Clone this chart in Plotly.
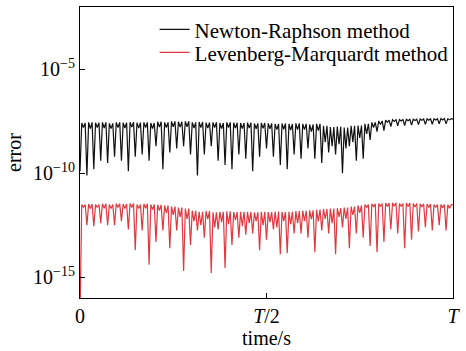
import numpy as np
import plotly.graph_objects as go

# log10(error) values, one entry per oscillation period
black_trough = [-9.9, -10.1, -9.8, -9.4, -9.5, -9.2, -9.4, -9.9, -9.2, -9.1,
                -9.4, -8.7, -9.8, -9.0, -8.8, -8.7, -9.1, -10.1, -9.1, -8.7,
                -9.4, -9.6, -9.8, -9.1, -9.3, -9.9, -9.2, -8.8, -9.2, -9.6,
                -9.8, -9.1, -9.3, -8.8, -9.3, -9.5, -9.0, -9.1, -10.0, -8.7,
                -9.4, -9.3, -8.4, -8.0, -7.95, -7.75, -7.72, -7.7, -7.68, -7.66,
                -7.65, -7.64, -7.62, -7.62]
black_peak = [-7.58, -7.55, -7.57, -7.55, -7.6, -7.55, -7.57, -7.54, -7.56, -7.55,
              -7.58, -7.52, -7.55, -7.5, -7.52, -7.5, -7.55, -7.53, -7.56, -7.55,
              -7.58, -7.55, -7.57, -7.58, -7.56, -7.6, -7.58,
              -7.6, -7.62, -7.6, -7.63, -7.6, -7.62, -7.65, -7.62,
              -7.72, -7.78, -7.75, -7.8, -7.72, -7.7,
              -7.62, -7.55, -7.48, -7.44,
              -7.42, -7.41, -7.4, -7.4, -7.39, -7.38, -7.38, -7.37, -7.37]
black_notch = [-7.8, -7.85, -7.8, -7.82, -7.85, -7.8, -7.82, -7.78, -7.83, -7.8,
               -7.85, -7.78, -7.8, -7.76, -7.78, -7.76, -7.82, -7.8, -7.82, -7.8,
               -7.85, -7.8, -7.83, -7.85, -7.82, -7.86, -7.84,
               -7.86, -7.9, -7.88, -7.92, -7.9, -7.9, -8.0, -7.95,
               -8.5, -8.7, -8.6, -8.8, -8.5, -8.3,
               -8.1, -7.8, -7.65, -7.55,
               -7.5, -7.48, -7.47, -7.46, -7.45, -7.45, -7.44, -7.44, -7.43]
black_last = -7.4

red_trough = [-17.0, -12.5, -12.55, -12.4, -12.5, -12.5, -12.3, -12.7, -13.7, -12.75,
              -14.4, -13.3, -12.75, -13.6, -12.75, -14.7, -13.45, -12.75, -13.1, -14.8,
              -12.7, -14.55, -13.45, -13.1, -12.95, -12.9, -13.7, -13.2, -12.7, -13.9,
              -13.85, -12.9, -12.9, -13.1, -13.8, -12.75, -12.9, -13.9, -12.6, -13.6,
              -12.9, -13.1, -13.5, -13.8, -13.3, -12.7, -12.9, -13.6, -13.2, -12.8,
              -12.6, -12.75, -12.5, -12.75]
red_peak = [-11.5, -11.48, -11.5, -11.47, -11.5, -11.46, -11.48, -11.45, -11.5, -11.47,
            -11.5, -11.52, -11.55, -11.6, -11.65, -11.7,
            -11.8, -11.85, -11.82, -11.88, -11.85, -11.83, -11.87, -11.85, -11.86, -11.88,
            -11.85, -11.87, -11.84, -11.86, -11.85, -11.82, -11.8, -11.78,
            -11.75, -11.72, -11.7, -11.68, -11.65, -11.6, -11.55,
            -11.5, -11.47, -11.45, -11.43, -11.42, -11.45, -11.43, -11.45, -11.47, -11.48,
            -11.5, -11.5, -11.52]
red_notch = [-11.65, -11.7, -11.65, -11.68, -11.7, -11.65, -11.7, -11.65, -11.7, -11.68,
             -11.75, -11.8, -11.9, -12.0, -12.1, -12.2,
             -12.3, -12.5, -12.2, -12.6, -12.35, -12.45, -12.25, -12.55, -12.4, -12.3,
             -12.5, -12.35, -12.6, -12.3, -12.45, -12.4, -12.3, -12.2,
             -12.3, -12.2, -12.4, -12.1, -12.2, -12.0, -11.9,
             -11.65, -11.62, -11.6, -11.6, -11.58, -11.6, -11.6, -11.62, -11.62, -11.65,
             -11.65, -11.66, -11.68]
red_last = -11.5

x_tick_vals = [0, 0.5, 1]
x_tick_text = ["0", "<i>T</i>/2", "<i>T</i>"]
y_tick_vals = [1e-15, 1e-10, 1e-5]
y_tick_text = ["10<sup>\u221215</sup>", "10<sup>\u221210</sup>", "10<sup>\u22125</sup>"]


def build(trough, peak, notch, last):
    seq = []
    for tr, pk, nt in zip(trough, peak, notch):
        seq += [tr, pk, nt, pk]
    seq.append(last)
    return np.power(10.0, np.array(seq))


black = build(black_trough, black_peak, black_notch, black_last)
red = build(red_trough, red_peak, red_notch, red_last)
t_black = np.linspace(0, 1, len(black))
t_red = np.linspace(0, 1, len(red))

FONT = "'Liberation Serif', 'DejaVu Serif', serif"

fig = go.Figure()
fig.add_trace(go.Scatter(x=t_black, y=black, mode="lines", name="Newton-Raphson method",
                         line=dict(color="#111111", width=1.2), legend="legend"))
fig.add_trace(go.Scatter(x=t_red, y=red, mode="lines", name="Levenberg-Marquardt method",
                         line=dict(color="#e0393e", width=1.2), legend="legend2"))

axis_common = dict(showline=True, linecolor="black", linewidth=1.2, mirror=True,
                   ticks="inside", ticklen=5, tickcolor="black", tickwidth=1,
                   showgrid=False, zeroline=False,
                   tickfont=dict(family=FONT, size=20, color="black"))

legend_common = dict(xanchor="left", yanchor="middle", bgcolor="rgba(0,0,0,0)",
                     font=dict(family=FONT, size=21, color="black"), itemwidth=30)

fig.update_layout(
    width=466, height=351,
    margin=dict(l=80, r=9, t=6, b=51),
    paper_bgcolor="white", plot_bgcolor="white",
    font=dict(family=FONT, size=20, color="black"),
    showlegend=True,
    legend=dict(x=0.2, y=0.922, **legend_common),
    legend2=dict(x=0.2, y=0.843, **legend_common),
    xaxis=dict(range=[0, 1], tickvals=x_tick_vals, ticktext=x_tick_text,
               title=dict(text="time/s", font=dict(family=FONT, size=20), standoff=4),
               **axis_common),
    yaxis=dict(type="log", range=[-16, -2], tickvals=y_tick_vals, ticktext=y_tick_text,
               title=dict(text="error", font=dict(family=FONT, size=20), standoff=5),
               **axis_common),
)

fig.write_html("out.html")
